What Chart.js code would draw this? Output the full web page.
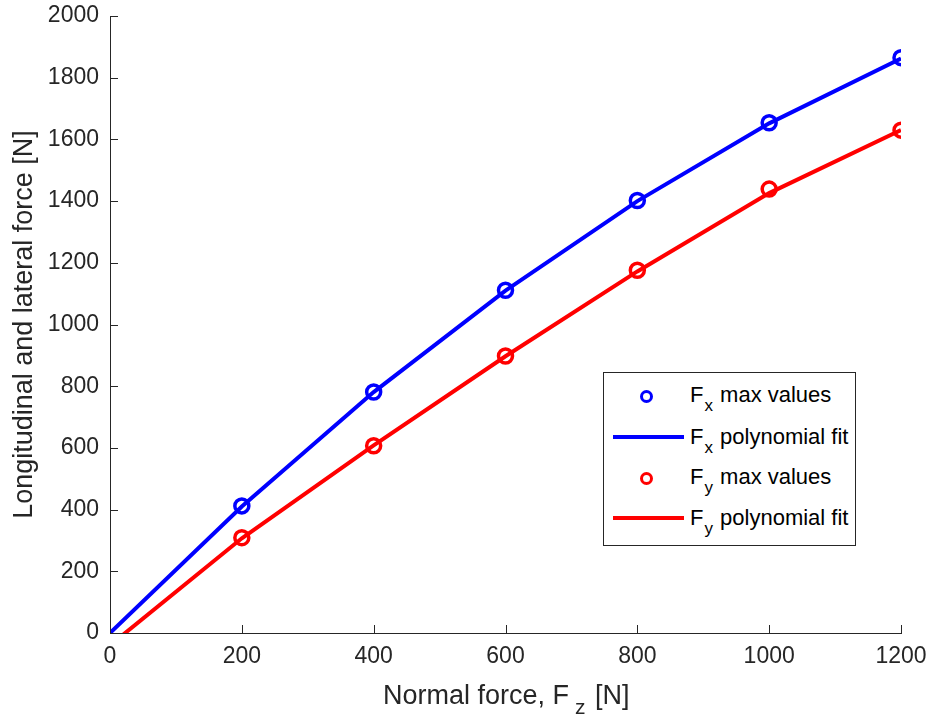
<!DOCTYPE html>
<html>
<head>
<meta charset="utf-8">
<script src="https://cdn.jsdelivr.net/npm/chart.js@4"></script>
<style>
body { margin: 0; background: #fff; font-family: "Liberation Sans", Arial, sans-serif; }
#wrap { position: relative; width: 930px; height: 720px; }
#legend { position: absolute; left: 603px; top: 372px; width: 251px; height: 172px; border: 1px solid #262626; background: #fff; font-size: 22px; color: #000; }
#legend .row { position: absolute; left: 0; height: 40px; width: 100%; }
#legend .txt { position: absolute; left: 86px; top: 7px; white-space: nowrap; }
#legend sub { font-size: 17px; vertical-align: -9px; margin-left: 1px; margin-right: 1px; }
#legend .dot { position: absolute; left: 36px; top: 15px; width: 7px; height: 7px; border-radius: 50%; border: 3.5px solid; }
#legend .ln { position: absolute; left: 9px; top: 18px; width: 71px; height: 4px; }
#xtitle { position: absolute; left: 383px; top: 680px; font-size: 27px; color: #262626; white-space: nowrap; }
#xtitle sub { font-size: 21px; vertical-align: -10px; margin-left: 6px; margin-right: 2px; }
</style>
</head>
<body>
<div id="wrap">
<canvas id="forces" width="930" height="720"></canvas>
<div id="legend">
  <div class="row" style="top:2px"><div class="dot" style="border-color:#0000ff"></div><div class="txt">F<sub>x</sub> max values</div></div>
  <div class="row" style="top:44px"><div class="ln" style="background:#0000ff"></div><div class="txt">F<sub>x</sub> polynomial fit</div></div>
  <div class="row" style="top:84px"><div class="dot" style="border-color:#ff0000"></div><div class="txt">F<sub>y</sub> max values</div></div>
  <div class="row" style="top:125px"><div class="ln" style="background:#ff0000"></div><div class="txt">F<sub>y</sub> polynomial fit</div></div>
</div>
<div id="xtitle">Normal force, F<sub>z</sub> [N]</div>
</div>
<script>
// measured maximum forces
var fz_points = [200, 400, 600, 800, 1000, 1200];
var fx_max = [412, 781, 1111, 1402, 1654, 1865];
var fy_max = [309, 607, 898, 1176, 1439, 1630];
// polynomial fits, evaluated at the same normal forces
var fit_x = [0, 200, 400, 600, 800, 1000, 1200];
var fx_fit = [0, 410, 781, 1110, 1400, 1652, 1862];
var fy_fit = [-40, 307, 608, 897, 1172, 1426, 1630];
var x_ticks = [0, 200, 400, 600, 800, 1000, 1200];
var y_ticks = [0, 200, 400, 600, 800, 1000, 1200, 1400, 1600, 1800, 2000];

function pairs(xs, ys) {
	return xs.map(function (x, i) { return { x: x, y: ys[i] }; });
}

// ticks pointing into the plot, like matlab
var inwardTicks = {
	id: "inwardTicks",
	afterDraw: function (chart) {
		var c = chart.ctx, xs = chart.scales.x, ys = chart.scales.y, a = chart.chartArea;
		c.save();
		c.strokeStyle = "#262626";
		c.lineWidth = 1;
		c.beginPath();
		x_ticks.forEach(function (v) {
			var px = Math.round(xs.getPixelForValue(v)) + 0.5;
			c.moveTo(px, a.bottom);
			c.lineTo(px, a.bottom - 8);
		});
		y_ticks.forEach(function (v) {
			var py = Math.round(ys.getPixelForValue(v)) + 0.5;
			c.moveTo(a.left, py);
			c.lineTo(a.left + 8, py);
		});
		c.stroke();
		c.restore();
	},
};

var tickFont = { family: "Liberation Sans", size: 23 };

var ctx = document.getElementById("forces").getContext("2d");
var myChart_forces = new Chart(ctx, {
	type: "line",
	data: {
		datasets: [
			{
				label: "Fx max values",
				data: pairs(fz_points, fx_max),
				showLine: false,
				borderColor: "#0000ff",
				backgroundColor: "rgba(0,0,0,0)",
				pointRadius: 7,
				pointBorderWidth: 3.5,
			},
			{
				label: "Fx polynomial fit",
				data: pairs(fit_x, fx_fit),
				borderColor: "#0000ff",
				borderWidth: 4,
				pointRadius: 0,
				tension: 0,
				fill: false,
			},
			{
				label: "Fy max values",
				data: pairs(fz_points, fy_max),
				showLine: false,
				borderColor: "#ff0000",
				backgroundColor: "rgba(0,0,0,0)",
				pointRadius: 7,
				pointBorderWidth: 3.5,
			},
			{
				label: "Fy polynomial fit",
				data: pairs(fit_x, fy_fit),
				borderColor: "#ff0000",
				borderWidth: 4,
				pointRadius: 0,
				tension: 0,
				fill: false,
			},
		],
	},
	options: {
		responsive: false,
		animation: false,
		layout: { padding: { top: 16, right: 29, left: 0, bottom: 0 } },
		plugins: { legend: { display: false }, tooltip: { enabled: false } },
		scales: {
			x: {
				type: "linear",
				min: 0,
				max: 1200,
				afterBuildTicks: function (s) { s.ticks = x_ticks.map(function (v) { return { value: v }; }); },
				afterFit: function (s) { s.height = 87; s.paddingLeft = 0; s.paddingRight = 0; },
				grid: { display: false, drawTicks: false },
				border: { color: "#262626", width: 1 },
				ticks: { color: "#262626", font: tickFont, padding: 10, maxRotation: 0, callback: function (v) { return String(v); } },
			},
			y: {
				type: "linear",
				min: 0,
				max: 2000,
				afterBuildTicks: function (s) { s.ticks = y_ticks.map(function (v) { return { value: v }; }); },
				afterFit: function (s) { s.width = 110; s.paddingTop = 0; s.paddingBottom = 0; },
				grid: { display: false, drawTicks: false },
				border: { color: "#262626", width: 1 },
				ticks: { color: "#262626", font: tickFont, padding: 11, callback: function (v) { return String(v); } },
				title: {
					display: true,
					text: "Longitudinal and lateral force [N]",
					color: "#262626",
					font: { family: "Liberation Sans", size: 27 },
					padding: { top: 8, bottom: 0 },
				},
			},
		},
	},
	plugins: [inwardTicks],
});
</script>
</body>
</html>
